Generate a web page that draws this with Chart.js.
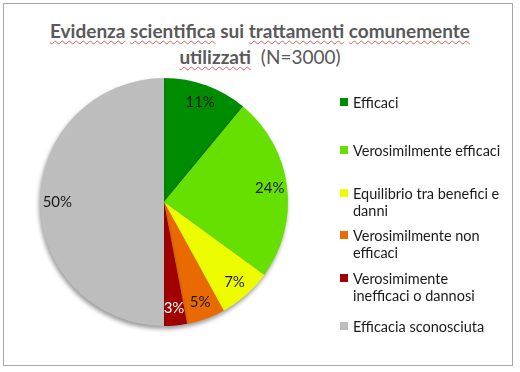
<!DOCTYPE html>
<html>
<head>
<meta charset="utf-8">
<script src="https://cdn.jsdelivr.net/npm/chart.js@4/dist/chart.umd.min.js"></script>
<style>
  body { margin: 0; background: #fff; font-family: Lato, "Noto Sans", sans-serif; }
  #wrap { position: relative; width: 520px; height: 372px; }
  #frame { position: absolute; left: 3px; top: 3px; width: 510px; height: 363px; border: 1px solid #a6a6a6; box-sizing: border-box; }
  #title { position: absolute; left: 0; top: 18px; width: 520px; text-align: center; color: #595959; font-size: 19px; line-height: 26px; white-space: nowrap; }
  #title b { font-weight: bold; }
  .sp { text-decoration: underline wavy #e06060; text-decoration-thickness: 1px; text-underline-offset: 2px; }
  #legend { position: absolute; left: 340px; top: 0; width: 178px; }
  .item { position: absolute; left: 0; font-size: 14.5px; line-height: 17px; color: #1a1a1a; padding-left: 13px; white-space: nowrap; }
  .box { position: absolute; left: 0; top: 4px; width: 8px; height: 8px; }
  canvas { position: absolute; left: 0; top: 0; }
</style>
</head>
<body>
<div id="wrap">
  <div id="frame"></div>
  <div id="title">
    <b><span class="sp">Evidenza</span> <span class="sp">scientifica</span> sui <span class="sp">trattamenti</span> <span class="sp">comunemente</span></b><br>
    <b><span class="sp">utilizzati</span></b>&nbsp; (N=3000)
  </div>
  <canvas id="pie" width="520" height="372"></canvas>
  <div id="legend"></div>
</div>
<script>
// categories and values (percent)
var categories = ['Efficaci', 'Verosimilmente efficaci', 'Equilibrio tra benefici e danni',
  'Verosimilmente non efficaci', 'Verosimimente inefficaci o dannosi', 'Efficacia sconosciuta'];
var values = [11, 24, 7, 5, 3, 50];
var colors = ['#008c00', '#66e000', '#eefc00', '#e86a00', '#a00000', '#bdbdbd'];
var labelColors = ['#1a1a1a', '#1a1a1a', '#1a1a1a', '#1a1a1a', '#ffffff', '#1a1a1a'];
// legend rows (top of each item) and wrapped text
var legendTops = [94, 142, 185, 227, 270, 318];
var legendText = ['Efficaci', 'Verosimilmente efficaci', 'Equilibrio tra benefici e<br>danni',
  'Verosimilmente non<br>efficaci', 'Verosimimente<br>inefficaci o dannosi', 'Efficacia sconosciuta'];

// build the legend from the data
var legend = document.getElementById('legend');
for (var i = 0; i < categories.length; i++) {
    var div = document.createElement('div');
    div.className = 'item';
    div.style.top = legendTops[i] + 'px';
    div.innerHTML = '<span class="box" style="background:' + colors[i] + '"></span>' + legendText[i];
    legend.appendChild(div);
}

// shadow under the pie
var shadowPlugin = {
    id: 'shadow',
    beforeDatasetsDraw: function (chart) {
        var ctx = chart.ctx;
        ctx.save();
        ctx.shadowColor = 'rgba(0,0,0,0.4)';
        ctx.shadowBlur = 4;
        ctx.shadowOffsetX = -1;
        ctx.shadowOffsetY = 3;
    },
    afterDatasetsDraw: function (chart) {
        chart.ctx.restore();
    }
};

// percent labels inside the slices
var labelPlugin = {
    id: 'sliceLabels',
    afterDraw: function (chart) {
        var ctx = chart.ctx;
        var meta = chart.getDatasetMeta(0);
        ctx.save();
        ctx.font = '15px Lato, sans-serif';
        ctx.textAlign = 'center';
        ctx.textBaseline = 'middle';
        meta.data.forEach(function (arc, i) {
            var p = arc.getProps(['x', 'y', 'startAngle', 'endAngle', 'outerRadius'], true);
            var mid = (p.startAngle + p.endAngle) / 2;
            var r = p.outerRadius * 0.86;
            ctx.fillStyle = labelColors[i];
            ctx.fillText(values[i] + '%', p.x + Math.cos(mid) * r, p.y + Math.sin(mid) * r);
        });
        ctx.restore();
    }
};

new Chart(document.getElementById('pie'), {
    type: 'pie',
    data: {
        labels: categories,
        datasets: [{
            data: values,
            backgroundColor: colors,
            borderWidth: 0
        }]
    },
    options: {
        responsive: false,
        animation: false,
        layout: { padding: { left: 40, right: 232, top: 78, bottom: 46 } },
        plugins: {
            legend: { display: false },
            tooltip: { enabled: false }
        }
    },
    plugins: [shadowPlugin, labelPlugin]
});
</script>
</body>
</html>
